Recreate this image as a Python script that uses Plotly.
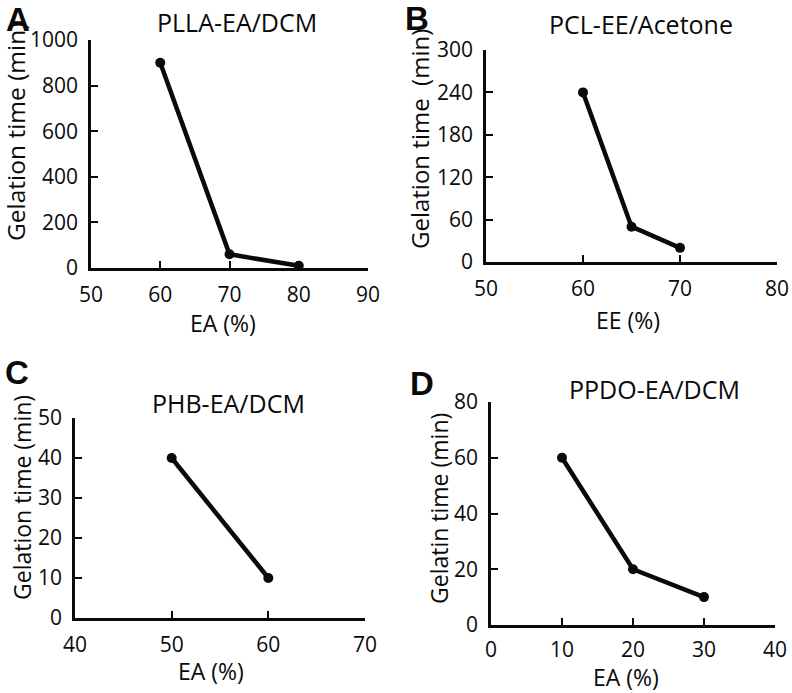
import plotly.graph_objects as go

W, H = 792, 693

# ---- data ----
a_x = [60, 70, 80]
a_y = [900, 60, 10]
b_x = [60, 65, 70]
b_y = [240, 50, 20]
c_x = [50, 60]
c_y = [40, 10]
d_x = [10, 20, 30]
d_y = [60, 20, 10]

panel_titles = ["PLLA-EA/DCM", "PCL-EE/Acetone", "PHB-EA/DCM", "PPDO-EA/DCM"]
panel_letters = ["A", "B", "C", "D"]
x_titles = ["EA (%)", "EE (%)", "EA (%)", "EA (%)"]
y_titles = ["Gelation time (min)", "Gelation time  (min)", "Gelation time (min)", "Gelatin time (min)"]
x_ranges = [[50, 90], [50, 80], [40, 70], [0, 40]]
y_ranges = [[0, 1000], [0, 300], [0, 50], [0, 80]]
x_dticks = [10, 10, 10, 10]
y_dticks = [200, 60, 10, 20]

# ---- layout (pixel boxes of each plot area: x0, x1, ytop, ybottom) ----
boxes = [(91, 368, 40, 268), (486, 777, 50, 262), (75, 365, 418, 618), (491, 775, 402, 625)]

FONT = "Open Sans"
INK = "#0a0a0a"

def fx(px):
    return px / W

def fy(py):
    return 1 - py / H

fig = go.Figure()
series = [(a_x, a_y), (b_x, b_y), (c_x, c_y), (d_x, d_y)]
for i, (xs, ys) in enumerate(series):
    n = "" if i == 0 else str(i + 1)
    fig.add_trace(go.Scatter(
        x=xs, y=ys, mode="lines+markers",
        line=dict(color=INK, width=4.5),
        marker=dict(color=INK, size=10),
        xaxis="x" + n, yaxis="y" + n, showlegend=False, cliponaxis=False,
    ))

layout = dict(
    template="none",
    width=W, height=H, margin=dict(l=0, r=0, t=0, b=0, pad=0, autoexpand=False),
    paper_bgcolor="white", plot_bgcolor="white", showlegend=False,
    font=dict(family=FONT, color=INK),
)
for i, (x0, x1, yt, yb) in enumerate(boxes):
    n = "" if i == 0 else str(i + 1)
    common = dict(showline=True, linecolor=INK, linewidth=2.5, showgrid=False,
                  zeroline=False, ticks="inside", ticklen=7, tickwidth=2, automargin=False,
                  tickcolor=INK, tickfont=dict(family=FONT, size=21, color=INK))
    layout["xaxis" + n] = dict(domain=[fx(x0), fx(x1)], range=x_ranges[i], dtick=x_dticks[i],
                                tick0=0, anchor="y" + n, ticklabelstandoff=6 if i < 3 else 4, **common)
    layout["yaxis" + n] = dict(domain=[fy(yb), fy(yt)], range=y_ranges[i], dtick=y_dticks[i],
                                tick0=0, anchor="x" + n, ticklabelstandoff=6, **common)

fig.update_layout(**layout)

# titles, letters, axis titles (pixel centres)
title_pos = [(237, 22), (641, 24), (228, 403), (654, 389)]
letter_pos = [(18, 20), (417, 18), (17, 372), (422, 383)]
xt_pos = [(223, 323), (628, 320), (211, 671), (626, 677)]
yt_pos = [(15, 132), (419, 139), (22, 498), (439, 509)]
yt_size = [24.5, 24, 23, 23]

ann = []
for i in range(4):
    ann.append(dict(text=panel_titles[i], x=fx(title_pos[i][0]), y=fy(title_pos[i][1]),
                    xref="paper", yref="paper", showarrow=False, xanchor="center", yanchor="middle",
                    font=dict(family=FONT, size=25, color=INK)))
    ann.append(dict(text="<b>" + panel_letters[i] + "</b>", x=fx(letter_pos[i][0]), y=fy(letter_pos[i][1]),
                    xref="paper", yref="paper", showarrow=False, xanchor="center", yanchor="middle",
                    borderpad=0, font=dict(family="Liberation Sans", size=33, color=INK)))
    ann.append(dict(text=x_titles[i], x=fx(xt_pos[i][0]), y=fy(xt_pos[i][1]),
                    xref="paper", yref="paper", showarrow=False, xanchor="center", yanchor="middle",
                    borderpad=0, font=dict(family=FONT, size=23, color=INK)))
    ann.append(dict(text=y_titles[i], x=fx(yt_pos[i][0]), y=fy(yt_pos[i][1]), textangle=-90,
                    xref="paper", yref="paper", showarrow=False, xanchor="center", yanchor="middle",
                    borderpad=0, font=dict(family=FONT, size=yt_size[i], color=INK)))
fig.update_layout(annotations=ann)

# remove the default 8px body margin so the 792x693 figure fills the window exactly
fig.write_html("out.html", config={"displayModeBar": False},
               post_script="document.body.style.margin='0';document.body.style.overflow='hidden';")
